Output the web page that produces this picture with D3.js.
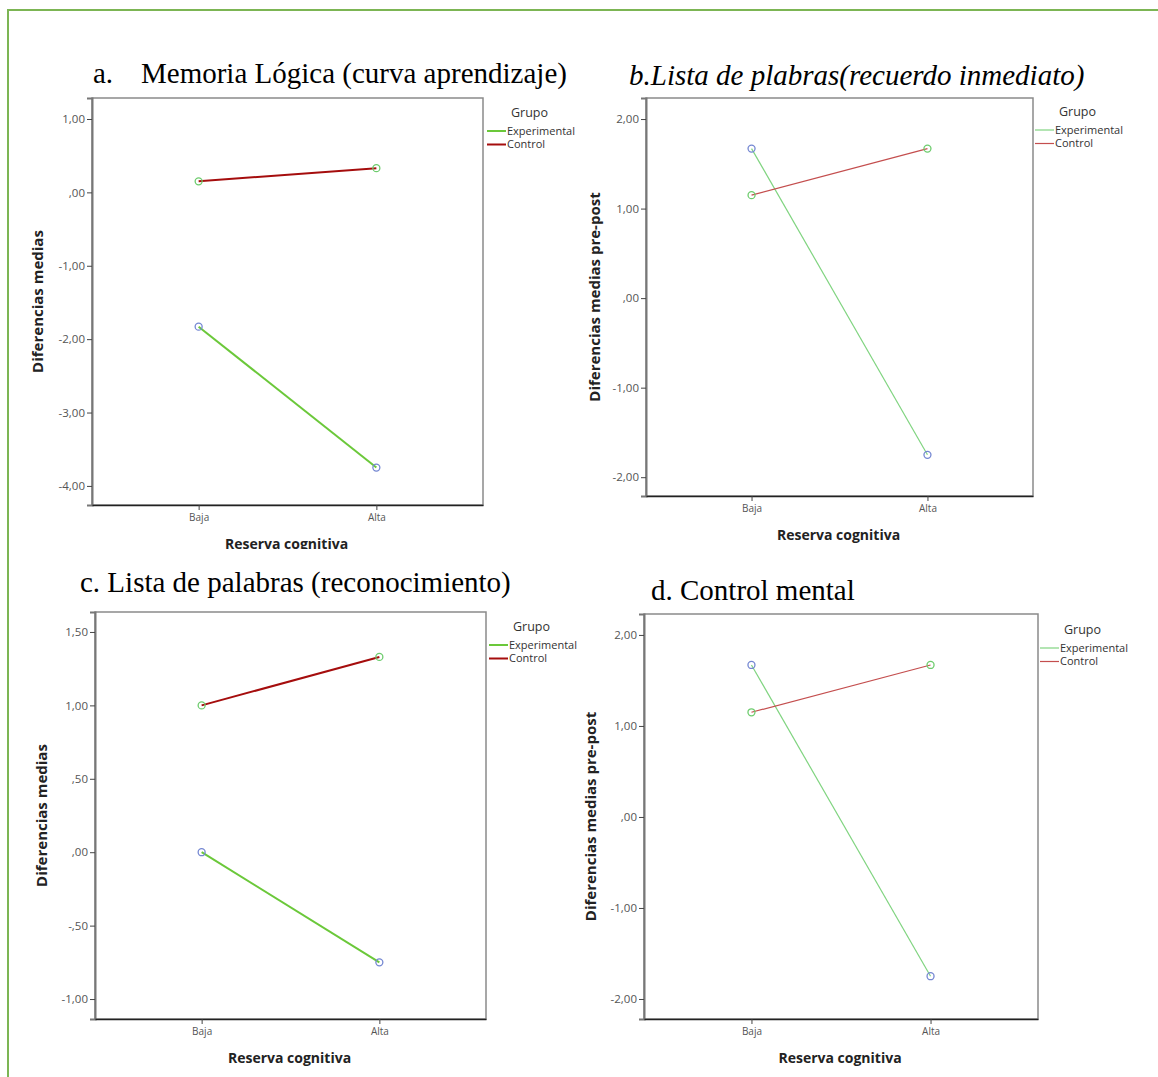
<!DOCTYPE html>
<html>
<head>
<meta charset="utf-8">
<script src="https://cdn.jsdelivr.net/npm/d3@7"></script>
<style>
  html, body { margin: 0; padding: 0; background: #fff; }
  svg { display: block; }
</style>
</head>
<body>
<svg id="chart" width="1158" height="1077"></svg>
<script>
// Categories and groups shared by the four interaction plots
const categories = ["Baja", "Alta"];
const groups = ["Experimental", "Control"];

// a. Memoria Lógica (curva aprendizaje)
const memoriaExperimental = [-1.83, -3.75];
const memoriaControl = [0.15, 0.33];
const memoriaTicks = [1, 0, -1, -2, -3, -4];

// b. Lista de palabras (recuerdo inmediato)
const recuerdoExperimental = [1.67, -1.75];
const recuerdoControl = [1.15, 1.67];
const recuerdoTicks = [2, 1, 0, -1, -2];

// c. Lista de palabras (reconocimiento)
const reconocimientoExperimental = [0.00, -0.75];
const reconocimientoControl = [1.00, 1.33];
const reconocimientoTicks = [1.5, 1, 0.5, 0, -0.5, -1];

// d. Control mental
const controlMentalExperimental = [1.67, -1.75];
const controlMentalControl = [1.15, 1.67];
const controlMentalTicks = [2, 1, 0, -1, -2];

// Spanish decimal format with a plain hyphen and the leading zero dropped: ",50", "-,50", "-1,00"
const fmt = v => d3.format(".2f")(v)
  .replace("\u2212", "-")
  .replace(".", ",")
  .replace(/^(-?)0,/, "$1,");

const svg = d3.select("#chart");

// Page frame
svg.append("line").attr("x1", 8).attr("x2", 1158).attr("y1", 10).attr("y2", 10)
  .attr("stroke", "#7cb554").attr("stroke-width", 2);
svg.append("line").attr("x1", 8).attr("x2", 8).attr("y1", 9).attr("y2", 1077)
  .attr("stroke", "#7cb554").attr("stroke-width", 2);

const sans = "'Open Sans', 'DejaVu Sans', sans-serif";
const serif = "'Liberation Serif', 'Times New Roman', serif";

const panels = [
  {
    id: "a", exp: memoriaExperimental, ctrl: memoriaControl, ticks: memoriaTicks,
    domain: [-4.26, 1.286], frame: { x0: 92, y0: 98, x1: 483, y1: 505 },
    title: [{ t: "a.", x: 93 }, { t: "Memoria Lógica (curva aprendizaje)", x: 141 }], titleY: 83, italic: false,
    yTitle: "Diferencias medias", yTitleX: 43,
    legend: { x: 487, y: 131 }, thick: true, clipBottom: 549
  },
  {
    id: "b", exp: recuerdoExperimental, ctrl: recuerdoControl, ticks: recuerdoTicks,
    domain: [-2.21, 2.235], frame: { x0: 646, y0: 98, x1: 1033, y1: 496 },
    title: [{ t: "b.Lista de plabras(recuerdo inmediato)", x: 629 }], titleY: 85, italic: true,
    yTitle: "Diferencias medias pre-post", yTitleX: 600,
    legend: { x: 1035, y: 130 }, thick: false
  },
  {
    id: "c", exp: reconocimientoExperimental, ctrl: reconocimientoControl, ticks: reconocimientoTicks,
    domain: [-1.136, 1.636], frame: { x0: 95, y0: 612, x1: 486, y1: 1019 },
    title: [{ t: "c. Lista de palabras (reconocimiento)", x: 80 }], titleY: 592, italic: false,
    yTitle: "Diferencias medias", yTitleX: 47,
    legend: { x: 489, y: 645 }, thick: true
  },
  {
    id: "d", exp: controlMentalExperimental, ctrl: controlMentalControl, ticks: controlMentalTicks,
    domain: [-2.22, 2.23], frame: { x0: 644, y0: 614, x1: 1038, y1: 1019 },
    title: [{ t: "d. Control mental", x: 651 }], titleY: 600, italic: false,
    yTitle: "Diferencias medias pre-post", yTitleX: 596,
    legend: { x: 1040, y: 648 }, thick: false
  }
];

panels.forEach(p => {
  let g = svg.append("g").attr("class", "panel-" + p.id);
  if (p.clipBottom) {
    svg.append("clipPath").attr("id", "clip-" + p.id)
      .append("rect").attr("x", 0).attr("y", 0).attr("width", 1158).attr("height", p.clipBottom);
    g.attr("clip-path", "url(#clip-" + p.id + ")");
  }
  const f = p.frame;
  const x = d3.scalePoint().domain(categories).range([f.x0, f.x1]).padding(0.6);
  const y = d3.scaleLinear().domain(p.domain).range([f.y1, f.y0]);

  const colors = p.thick
    ? { Experimental: "#6bc83a", Control: "#a50d0d" }
    : { Experimental: "#80d480", Control: "#c44e4e" };
  const markers = { Experimental: "#7487d2", Control: "#6dcc6d" };
  const lw = p.thick ? 2 : 1.2;

  // Title
  const title = g.append("text").attr("y", p.titleY)
    .attr("font-family", serif).attr("font-size", 29).attr("fill", "#000")
    .attr("font-style", p.italic ? "italic" : "normal");
  p.title.forEach(s => title.append("tspan").attr("x", s.x).text(s.t));

  // Plot frame
  g.append("rect").attr("x", f.x0).attr("y", f.y0)
    .attr("width", f.x1 - f.x0).attr("height", f.y1 - f.y0)
    .attr("fill", "#fff").attr("stroke", "#8a8a8a").attr("stroke-width", 1.5);

  // Y axis
  const yAxis = g.append("g").attr("transform", `translate(${f.x0},0)`)
    .call(d3.axisLeft(y).tickValues(p.ticks).tickFormat(fmt).tickSize(5).tickPadding(2));
  yAxis.select(".domain").attr("stroke", "#777").attr("stroke-width", 2);
  yAxis.selectAll(".tick line").attr("stroke", "#444");
  yAxis.selectAll(".tick text").attr("font-family", sans).attr("font-size", 11.5).attr("fill", "#555");

  // X axis
  const xAxis = g.append("g").attr("transform", `translate(0,${f.y1})`)
    .call(d3.axisBottom(x).tickSize(5).tickPadding(4).tickSizeOuter(0));
  xAxis.select(".domain").attr("stroke", "#222").attr("stroke-width", 1.5);
  xAxis.selectAll(".tick line").attr("stroke", "#444");
  xAxis.selectAll(".tick text").attr("font-family", sans).attr("font-size", 10).attr("fill", "#555");

  // Axis titles
  g.append("text").attr("x", (f.x0 + f.x1) / 2 - 1).attr("y", f.y1 + 44)
    .attr("text-anchor", "middle").attr("font-family", sans).attr("font-weight", "bold")
    .attr("font-size", 14).attr("fill", "#222").text("Reserva cognitiva");
  g.append("text")
    .attr("transform", `translate(${p.yTitleX},${(f.y0 + f.y1) / 2}) rotate(-90)`)
    .attr("text-anchor", "middle").attr("font-family", sans).attr("font-weight", "bold")
    .attr("font-size", 15).attr("fill", "#222").text(p.yTitle);

  // Lines and markers
  const series = [
    { name: "Experimental", values: p.exp },
    { name: "Control", values: p.ctrl }
  ];
  const line = d3.line().x((d, i) => x(categories[i])).y(d => y(d));
  series.forEach(s => {
    g.append("path").datum(s.values).attr("d", line)
      .attr("fill", "none").attr("stroke", colors[s.name]).attr("stroke-width", lw);
  });
  series.forEach(s => {
    g.selectAll(null).data(s.values).enter().append("circle")
      .attr("cx", (d, i) => x(categories[i])).attr("cy", d => y(d)).attr("r", 3.5)
      .attr("fill", "none").attr("stroke", markers[s.name]).attr("stroke-width", 1.3);
  });

  // Legend
  const L = p.legend;
  g.append("text").attr("x", L.x + 24).attr("y", L.y - 14)
    .attr("font-family", sans).attr("font-size", 12.5).attr("fill", "#333").text("Grupo");
  groups.forEach((name, i) => {
    const yy = L.y + i * 13.5;
    g.append("line").attr("x1", L.x).attr("x2", L.x + 19).attr("y1", yy).attr("y2", yy)
      .attr("stroke", colors[name]).attr("stroke-width", lw);
    g.append("text").attr("x", L.x + 20).attr("y", yy + 3.8)
      .attr("font-family", sans).attr("font-size", 11).attr("fill", "#333").text(name);
  });
});
</script>
</body>
</html>
